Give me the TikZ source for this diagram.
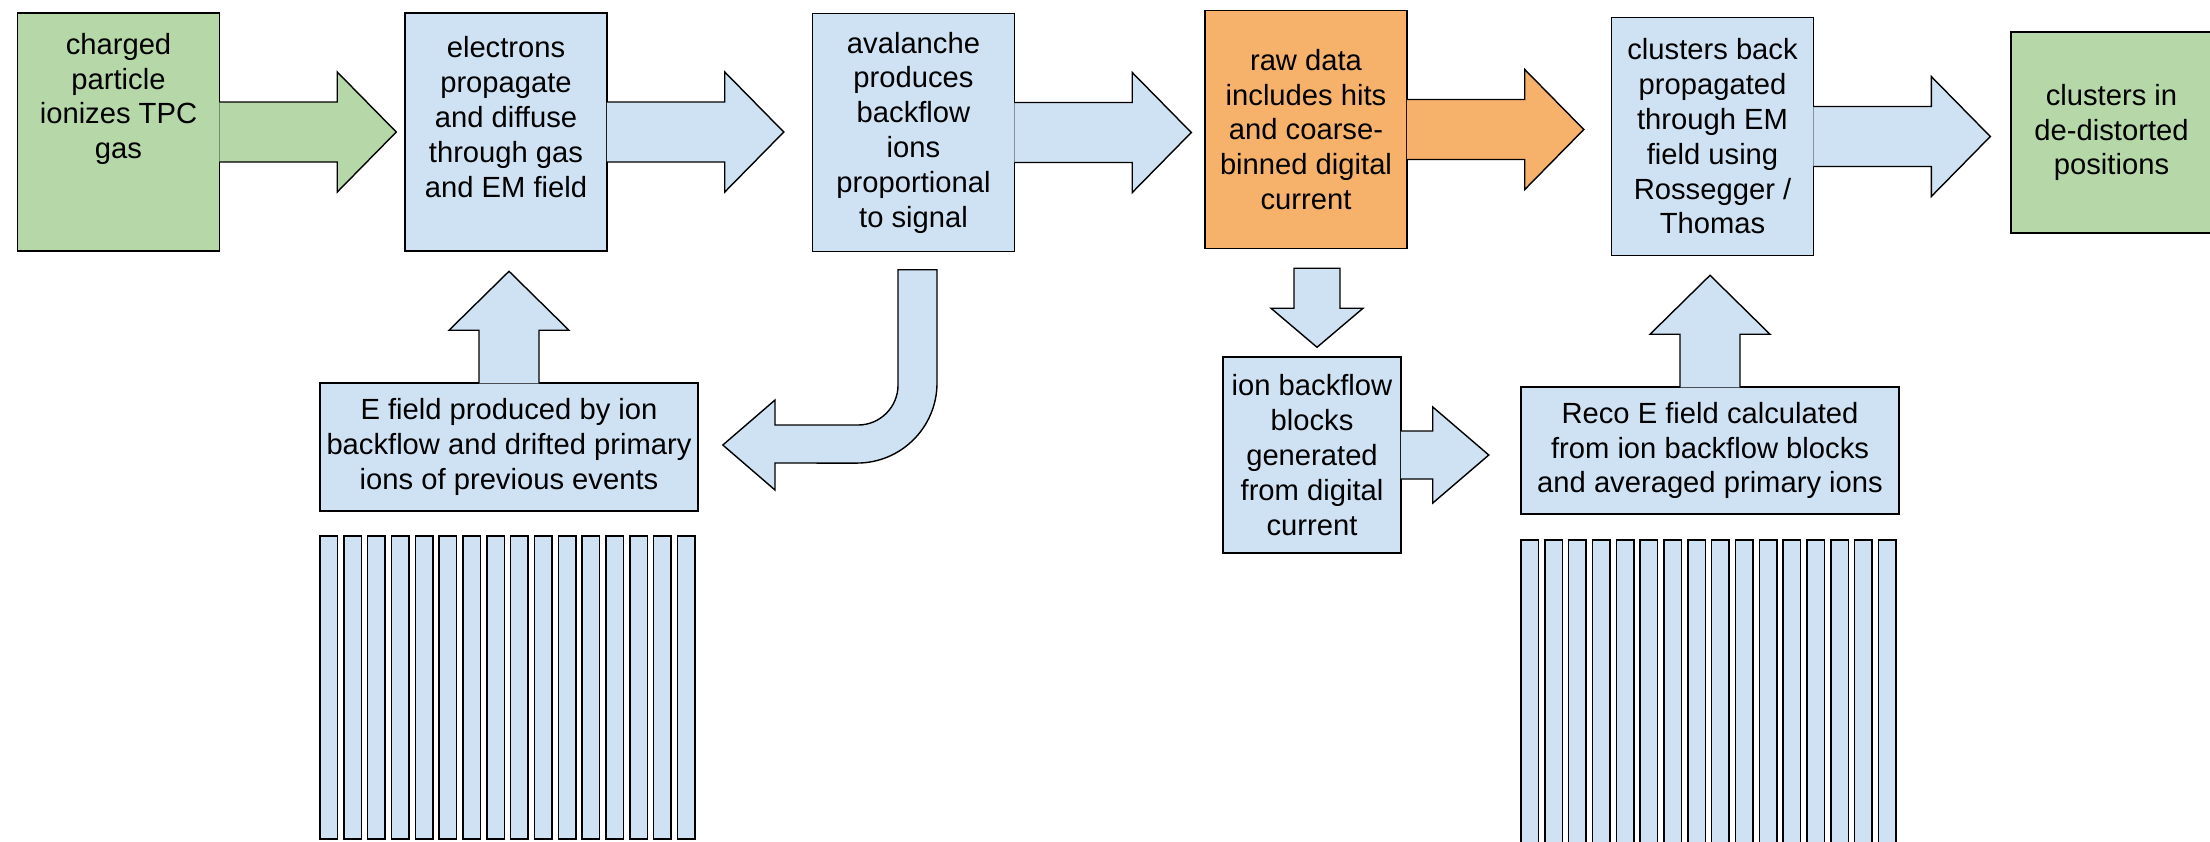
\documentclass[tikz,border=0pt]{standalone}
\usepackage{fontspec}
\setmainfont{Liberation Sans}
\usepackage{tikz}
\usetikzlibrary{calc}
\definecolor{stagegreen}{RGB}{182,215,168}
\definecolor{stageblue}{RGB}{207,226,243}
\definecolor{stageorange}{RGB}{246,178,107}

\begin{document}
\begin{tikzpicture}[x=0.01cm, y=-0.01cm,
    stage/.style={draw, line width=0.4pt, align=center, inner sep=0pt, font=\fontsize{8.3}{9.9}\selectfont},
    topstage/.style={stage, minimum width=2.02cm, minimum height=2.38cm},
    stagetext/.style={align=center, inner sep=0pt, font=\fontsize{8.3}{9.9}\selectfont},
    flow/.style={draw, line width=0.4pt, line join=miter, fill=stageblue}]

\useasboundingbox (0,0) rectangle (2210,841);

% Top row
\node[topstage, fill=stagegreen] (ionize) at (118.5,132) {};
\node[stagetext] (ionize-text) at (118.5,99) {charged\\particle\\ionizes TPC\\gas};
\node[topstage, fill=stageblue] (drift) at (506,132) {};
\node[stagetext] (drift-text) at (506,117) {electrons\\propagate\\and diffuse\\through gas\\and EM field};
\node[topstage, fill=stageblue] (aval) at (913.5,132.5) {avalanche\\produces\\backflow\\ions\\proportional\\to signal};
\node[topstage, fill=stageorange] (raw) at (1306,129.5) {raw data\\includes hits\\and coarse-\\binned digital\\current};
\node[topstage, fill=stageblue] (back) at (1712.5,136.5) {clusters back\\propagated\\through EM\\field using\\Rossegger /\\Thomas};
\node[stage, fill=stagegreen, minimum width=2.01cm, minimum height=2.01cm] (final) at (2111.5,132.5) {clusters in\\de-distorted\\positions};

% Arrows between top stages
\foreach \n/\c in {ionize/stagegreen, drift/stageblue, aval/stageblue, raw/stageorange, back/stageblue} {
    \path[flow, fill=\c] ($(\n.east)+(-1,-30)$) -- ++(118,0) -- ++(0,-30) -- ++(59,60) -- ++(-59,60) -- ++(0,-30) -- ++(-118,0);
}

% Lower row
\node[stage, fill=stageblue, minimum width=3.78cm, minimum height=1.28cm] (efield) at (509,447) {E field produced by ion\\backflow and drifted primary\\ions of previous events};
\node[stage, fill=stageblue, minimum width=1.78cm, minimum height=1.96cm] (blocks) at (1312,455) {ion backflow\\blocks\\generated\\from digital\\current};
\node[stage, fill=stageblue, minimum width=3.78cm, minimum height=1.27cm] (reco) at (1710,450.5) {Reco E field calculated\\from ion backflow blocks\\and averaged primary ions};

% Up arrows into the top row
\foreach \n in {efield, reco} {
    \path[flow] ($(\n.north)+(-30,1)$) -- ++(0,-53) -- ++(-30,0) -- ++(60,-59) -- ++(60,59) -- ++(-30,0) -- ++(0,53);
}

% Down arrow from raw data
\draw[flow] ($(blocks.north)+(5,-9)$) -- ++(-46,-39) -- ++(23,0) -- ++(0,-40) -- ++(46,0) -- ++(0,40) -- ++(23,0) -- cycle;

% Right arrow to reco field
\path[flow] ($(blocks.east)+(-1,-24)$) -- ++(32,0) -- ++(0,-24) -- ++(56,48) -- ++(-56,48) -- ++(0,-24) -- ++(-32,0);

% Bent arrow from avalanche back to E field
\draw[flow] ($(aval.south)+(-15.5,17.5)$) -- ++(39,0) -- (937,383) arc[start angle=0, end angle=-90, radius=0.8cm]
    -- (775,463) -- (775,490) -- ($(efield.east)+(24,-2)$) -- (775,400) -- (775,425) -- (858,425)
    arc[start angle=-90, end angle=0, radius=0.4cm] -- cycle;

% Slices
\foreach \i in {0,...,15} {
    \draw[flow] (320+\i*23.83, 536) rectangle ++(17.5, 303);
    \draw[flow] (1521+\i*23.83, 540) rectangle ++(17.5, 330);
}

\end{tikzpicture}
\end{document}
